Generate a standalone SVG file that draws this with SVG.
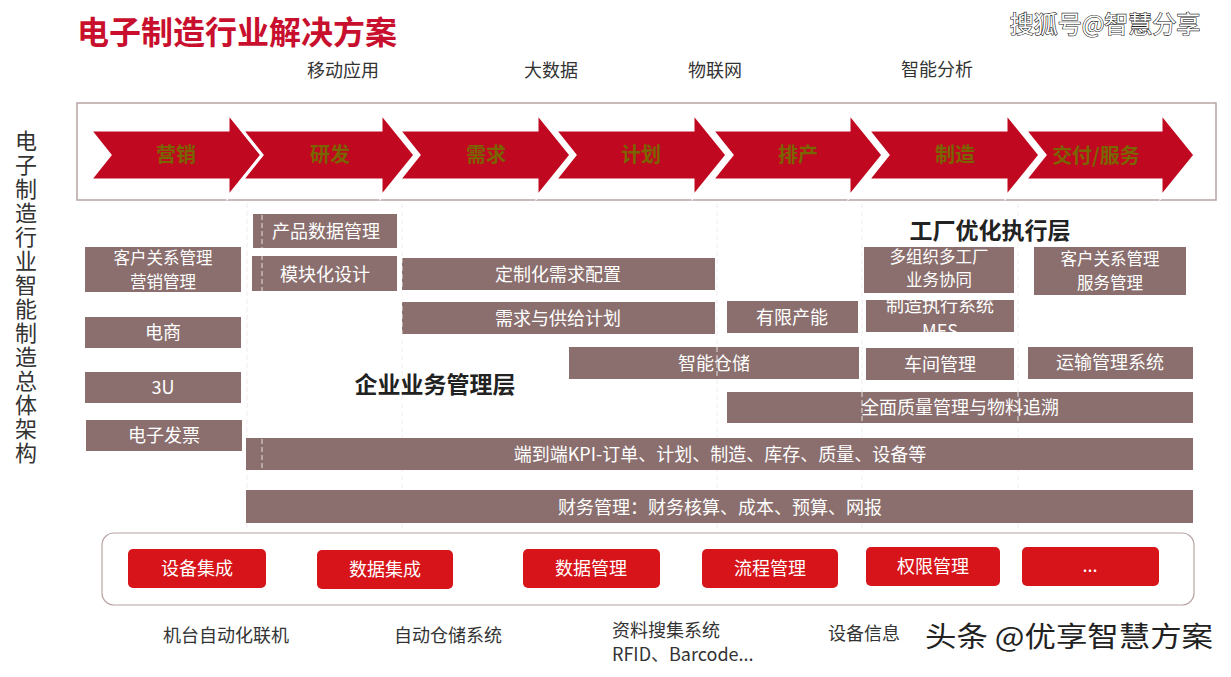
<svg xmlns="http://www.w3.org/2000/svg" width="1231" height="677" viewBox="0 0 1231 677">
<style>
text{font-family:"Noto Sans CJK SC","Liberation Sans",sans-serif}
.box{fill:#8b6f6e}
.bt{fill:#fff;font-size:18px;text-anchor:middle}
.bt2{fill:#fff;font-size:16.5px;text-anchor:middle}
.arr{fill:#c00820;stroke:#fff;stroke-width:3}
.at{fill:#7a6400;font-size:20px;font-weight:bold;text-anchor:middle}
.lbl{fill:#333;font-size:18px}
.head{fill:#222;font-size:23px;font-weight:bold;text-anchor:middle}
.rb{fill:#d7141a}
.div{stroke:#fff;stroke-opacity:.8;stroke-width:1;stroke-dasharray:5 3;fill:none}
.divf{stroke:#f0eded;stroke-width:1;stroke-dasharray:5 3;fill:none}
</style>
<defs>
<clipPath id="mesclip"><rect x="866" y="300" width="148" height="32"/></clipPath>
</defs>
<rect width="1231" height="677" fill="#fff"/>

<text x="77" y="44" font-size="32" font-weight="bold" fill="#c8102e">电子制造行业解决方案</text>
<text x="1105" y="33" font-size="24" text-anchor="middle" fill="#fff" stroke="#222" stroke-width="1.2" paint-order="stroke">搜狐号@智慧分享</text>

<g id="toplabels">
<text class="lbl" x="343" y="77" text-anchor="middle">移动应用</text>
<text class="lbl" x="551" y="77" text-anchor="middle">大数据</text>
<text class="lbl" x="715" y="77" text-anchor="middle">物联网</text>
<text class="lbl" x="937" y="76" text-anchor="middle">智能分析</text>
</g>

<text id="sidetitle" x="26" y="130" fill="#333" font-size="22" letter-spacing="2" style="writing-mode:vertical-rl">电子制造行业智能制造总体架构</text>

<rect id="frame" x="77" y="103" width="1139" height="97" fill="none" stroke="#b8a2a2" stroke-width="1.5"/>

<g id="dividers-faint">
<path class="divf" d="M247 203V530M402 203V530M717 203V530M862 203V530M1018 203V530"/>
</g>

<g id="arrows">
<g id="a1"><path class="arr" d="M90 130H228V113L262 155L228 197V180H90L110 155Z"/><text class="at" x="176" y="162">营销</text></g>
<g id="a2"><path class="arr" d="M242 130H381V113L415 155L381 197V180H242L262 155Z"/><text class="at" x="330" y="162">研发</text></g>
<g id="a3"><path class="arr" d="M399 130H537V113L571 155L537 197V180H399L419 155Z"/><text class="at" x="486" y="162">需求</text></g>
<g id="a4"><path class="arr" d="M555 130H693V113L727 155L693 197V180H555L575 155Z"/><text class="at" x="641" y="162">计划</text></g>
<g id="a5"><path class="arr" d="M712 130H849V113L883 155L849 197V180H712L732 155Z"/><text class="at" x="798" y="162">排产</text></g>
<g id="a6"><path class="arr" d="M868 130H1006V113L1040 155L1006 197V180H868L888 155Z"/><text class="at" x="955" y="162">制造</text></g>
<g id="a7"><path class="arr" d="M1025 130H1161V113L1195 155L1161 197V180H1025L1045 155Z"/><text class="at" x="1096" y="163">交付/服务</text></g>
</g>

<text class="head" x="435" y="393">企业业务管理层</text>
<text class="head" x="990" y="239">工厂优化执行层</text>

<g id="n-crm"><rect class="box" x="85" y="247" width="156" height="45"/><text class="bt2" x="163" y="264">客户关系管理<tspan x="163" dy="24">营销管理</tspan></text></g>
<g id="n-ec"><rect class="box" x="85" y="317" width="156" height="31"/><text class="bt" x="163" y="339">电商</text></g>
<g id="n-3u"><rect class="box" x="85" y="372" width="156" height="31"/><text class="bt" x="163" y="394">3U</text></g>
<g id="n-inv"><rect class="box" x="86" y="420" width="156" height="31"/><text class="bt" x="164" y="442">电子发票</text></g>

<g id="n-pdm"><rect class="box" x="253" y="214" width="144" height="34"/><text class="bt" x="326" y="238">产品数据管理</text></g>
<g id="n-mod"><rect class="box" x="252" y="256" width="145" height="35"/><text class="bt" x="325" y="281">模块化设计</text></g>
<g id="n-cfg"><rect class="box" x="402" y="258" width="313" height="32"/><text class="bt" x="558" y="281">定制化需求配置</text></g>
<g id="n-dsp"><rect class="box" x="402" y="302" width="313" height="32"/><text class="bt" x="558" y="325">需求与供给计划</text></g>
<g id="n-cap"><rect class="box" x="727" y="301" width="131" height="32"/><text class="bt" x="792" y="324">有限产能</text></g>
<g id="n-multi"><rect class="box" x="864" y="247" width="150" height="46"/><text class="bt2" x="939" y="263">多组织多工厂<tspan x="939" dy="22.5">业务协同</tspan></text></g>
<g id="n-crm2"><rect class="box" x="1034" y="247" width="152" height="48"/><text class="bt2" x="1110" y="265">客户关系管理<tspan x="1110" dy="24">服务管理</tspan></text></g>
<g id="n-mes"><rect class="box" x="866" y="300" width="148" height="32"/><g clip-path="url(#mesclip)"><text class="bt" x="940" y="312">制造执行系统<tspan x="940" dy="26">MES</tspan></text></g></g>
<g id="n-wms"><rect class="box" x="569" y="347" width="290" height="32"/><text class="bt" x="714" y="370">智能仓储</text></g>
<g id="n-shop"><rect class="box" x="866" y="348" width="148" height="32"/><text class="bt" x="940" y="371">车间管理</text></g>
<g id="n-tms"><rect class="box" x="1028" y="347" width="165" height="32"/><text class="bt" x="1110" y="369">运输管理系统</text></g>
<g id="n-qm"><rect class="box" x="727" y="392" width="466" height="31"/><text class="bt" x="960" y="414">全面质量管理与物料追溯</text></g>
<g id="n-kpi"><rect class="box" x="246" y="438" width="947" height="32"/><text class="bt" x="720" y="461">端到端KPI-订单、计划、制造、库存、质量、设备等</text></g>
<g id="n-fin"><rect class="box" x="246" y="490" width="947" height="33"/><text class="bt" x="720" y="514">财务管理：财务核算、成本、预算、网报</text></g>

<g id="dividers-on">
<path class="div" d="M262 215V470M402 258V334M717 347V379M862 392V423M1018 392V423"/>
</g>

<rect id="platform" x="102" y="533" width="1092" height="72" rx="12" fill="none" stroke="#b8a2a2" stroke-width="1.2"/>
<g id="b1"><rect class="rb" x="128" y="549" width="138" height="39" rx="5"/><text class="bt" x="197" y="575">设备集成</text></g>
<g id="b2"><rect class="rb" x="317" y="550" width="136" height="39" rx="5"/><text class="bt" x="385" y="576">数据集成</text></g>
<g id="b3"><rect class="rb" x="523" y="549" width="137" height="39" rx="5"/><text class="bt" x="591" y="575">数据管理</text></g>
<g id="b4"><rect class="rb" x="702" y="549" width="136" height="39" rx="5"/><text class="bt" x="770" y="575">流程管理</text></g>
<g id="b5"><rect class="rb" x="866" y="547" width="134" height="39" rx="5"/><text class="bt" x="933" y="573">权限管理</text></g>
<g id="b6"><rect class="rb" x="1022" y="547" width="137" height="39" rx="5"/><text class="bt" x="1090" y="572">...</text></g>

<g id="bottomlabels">
<text class="lbl" x="226" y="642" text-anchor="middle">机台自动化联机</text>
<text class="lbl" x="448" y="642" text-anchor="middle">自动仓储系统</text>
<text class="lbl" x="612" y="637">资料搜集系统<tspan x="612" dy="24">RFID、Barcode...</tspan></text>
<text class="lbl" x="828" y="640">设备信息</text>
</g>
<text x="925" y="647" font-size="28" textLength="288" lengthAdjust="spacingAndGlyphs" fill="#222" stroke="#fff" stroke-width="3" paint-order="stroke">头条 @优享智慧方案</text>
</svg>
